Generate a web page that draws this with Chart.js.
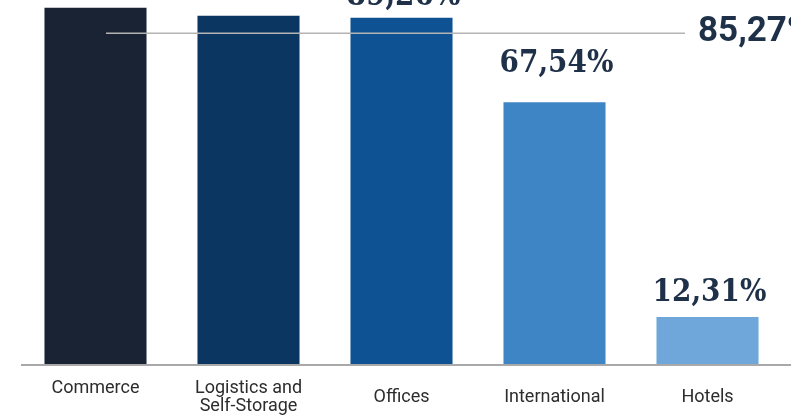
<!DOCTYPE html>
<html>
<head>
<meta charset="utf-8">
<script src="https://cdn.jsdelivr.net/npm/chart.js@4.4.1/dist/chart.umd.min.js"></script>
<style>
  html,body{margin:0;padding:0;background:#fff;overflow:hidden;}
  #wrap{position:relative;width:791px;height:415px;overflow:hidden;}
  #grafico{position:absolute;left:0;top:-70px;}
</style>
</head>
<body>
<div id="wrap"><canvas id="grafico" width="791" height="514"></canvas></div>
<script>
// occupancy by segment (%)
const categorias = [["Commerce",""], ["Logistics and","Self-Storage"], "Offices", "International", "Hotels"];
const valores = [91.85, 89.75, 89.26, 67.54, 12.31];
const cores = ["#1a2334", "#0a3661", "#0e5293", "#3e85c5", "#6fa7da"];
const media = 85.27;

// distance from the bar top to the label baseline
const offsetsRotulo = [30, 30, 13, 30, 16];

function formatar(v){
  return v.toFixed(2).replace(".", ",");
}

const pluginRotulos = {
  id: "rotulos",
  afterDatasetsDraw(chart){
    const ctx = chart.ctx;
    const area = chart.chartArea;
    const y = chart.scales.y;
    ctx.save();

    // base line
    ctx.strokeStyle = "#a9a9a9";
    ctx.lineWidth = 2;
    ctx.beginPath();
    ctx.moveTo(21, area.bottom);
    ctx.lineTo(chart.width, area.bottom);
    ctx.stroke();

    // average line
    const yMedia = y.getPixelForValue(media);
    ctx.strokeStyle = "#b4b4b4";
    ctx.lineWidth = 1.5;
    ctx.beginPath();
    ctx.moveTo(106, yMedia);
    ctx.lineTo(685, yMedia);
    ctx.stroke();
    ctx.fillStyle = "#1f3049";
    ctx.font = "bold 35px Roboto";
    ctx.textAlign = "left";
    ctx.textBaseline = "alphabetic";
    ctx.fillText(formatar(media) + "%", 698, yMedia + 8);

    // values over the bars
    ctx.font = "bold 31px 'DejaVu Serif Condensed', 'DejaVu Serif'";
    ctx.textAlign = "center";
    chart.getDatasetMeta(0).data.forEach((bar, i)=>{
      ctx.fillText(formatar(valores[i]) + "%", bar.x + 2, bar.y - offsetsRotulo[i]);
    });
    ctx.restore();
  }
};

new Chart(document.getElementById("grafico"), {
  type: "bar",
  data: {
    labels: categorias,
    datasets: [{
      data: valores,
      backgroundColor: cores,
      categoryPercentage: 1,
      barPercentage: 0.667
    }]
  },
  options: {
    responsive: false,
    animation: false,
    devicePixelRatio: 1,
    layout: { padding: { top: 46, left: 19, right: 7, bottom: 5 } },
    plugins: { legend: { display: false }, tooltip: { enabled: false } },
    scales: {
      x: {
        grid: { display: false },
        border: { display: false },
        ticks: {
          color: "#2d2d2d",
          font: { family: "Roboto", size: 18, lineHeight: 1 },
          padding: 15,
          crossAlign: "center",
          maxRotation: 0,
          autoSkip: false
        }
      },
      y: { display: false, min: 0, max: 100 }
    }
  },
  plugins: [pluginRotulos]
});
</script>
</body>
</html>
